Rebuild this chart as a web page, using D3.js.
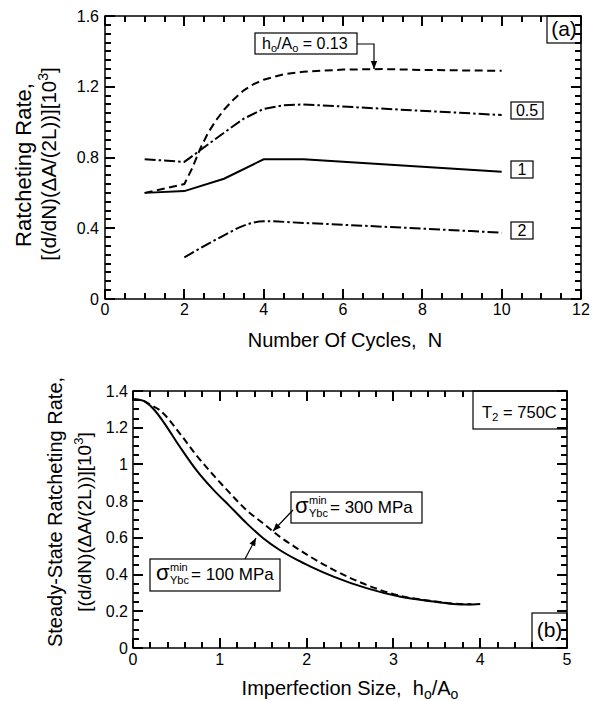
<!DOCTYPE html>
<html><head><meta charset="utf-8">
<script src="https://cdn.jsdelivr.net/npm/d3@7"></script>
<style>
html,body{margin:0;padding:0;background:#fff;}
svg{display:block;font-family:"Liberation Sans",Arial,Helvetica,sans-serif;}
</style></head>
<body>
<svg id="c" width="599" height="701"></svg>
<script>
// ---- Panel (a) data ----
const cyc013 = [1, 2, 2.2, 2.4, 2.6, 2.8, 3, 3.25, 3.5, 3.75, 4, 4.5, 5, 6, 7, 8, 10];
const rate013 = [0.60, 0.65, 0.74, 0.85, 0.94, 1.01, 1.07, 1.13, 1.18, 1.215, 1.24, 1.27, 1.285, 1.297, 1.30, 1.295, 1.29];
const cyc05 = [1, 2, 3, 3.5, 4, 4.5, 5, 10];
const rate05 = [0.79, 0.775, 0.94, 1.02, 1.075, 1.095, 1.10, 1.04];
const cyc1 = [1, 2, 3, 4, 5, 10];
const rate1 = [0.60, 0.61, 0.68, 0.79, 0.79, 0.72];
const cyc2 = [2, 3, 3.5, 4, 5, 10];
const rate2 = [0.235, 0.36, 0.415, 0.44, 0.43, 0.375];
const xTicksA = [0, 2, 4, 6, 8, 10, 12];
const xLabelsA = ["0", "2", "4", "6", "8", "10", "12"];
const yTicksA = [0, 0.4, 0.8, 1.2, 1.6];
const yLabelsA = ["0", "0.4", "0.8", "1.2", "1.6"];

// ---- Panel (b) data ----
const size100 = [0, 0.1, 0.2, 0.25, 0.35, 0.54, 0.73, 0.93, 1.12, 1.31, 1.5, 1.69, 1.89, 2.04, 2.31, 2.69, 3.07, 3.46, 3.69, 3.85, 4.0];
const rate100 = [1.355, 1.35, 1.32, 1.295, 1.232, 1.096, 0.969, 0.86, 0.77, 0.679, 0.598, 0.534, 0.48, 0.445, 0.389, 0.326, 0.28, 0.253, 0.24, 0.237, 0.24];
const size300 = [0, 0.1, 0.2, 0.31, 0.54, 0.73, 0.93, 1.12, 1.31, 1.5, 1.69, 1.89, 2.04, 2.31, 2.69, 3.07, 3.46, 3.69, 3.9];
const rate300 = [1.355, 1.35, 1.325, 1.295, 1.168, 1.05, 0.94, 0.842, 0.75, 0.679, 0.607, 0.543, 0.498, 0.426, 0.344, 0.285, 0.255, 0.242, 0.238];
const xTicksB = [0, 1, 2, 3, 4, 5];
const xLabelsB = ["0", "1", "2", "3", "4", "5"];
const yTicksB = [0, 0.2, 0.4, 0.6, 0.8, 1, 1.2, 1.4];
const yLabelsB = ["0", "0.2", "0.4", "0.6", "0.8", "1", "1.2", "1.4"];

const svg = d3.select("#c");
const zip = (xs, ys) => xs.map((x, i) => [x, ys[i]]);

svg.append("defs").append("marker")
  .attr("id", "ah").attr("viewBox", "0 0 10 10").attr("refX", 10).attr("refY", 5)
  .attr("markerWidth", 8).attr("markerHeight", 8).attr("markerUnits", "userSpaceOnUse")
  .attr("orient", "auto")
  .append("path").attr("d", "M0,1 L10,5 L0,9 Z").attr("fill", "#000");

function txt(parent, x, y, size, anchor) {
  return parent.append("text").attr("x", x).attr("y", y).attr("font-size", size)
    .attr("text-anchor", anchor || "start").attr("fill", "#000");
}

function panel(o) {
  const g = svg.append("g");
  const x = d3.scaleLinear().domain(o.xd).range([o.L, o.R]);
  const y = d3.scaleLinear().domain(o.yd).range([o.B, o.T]);
  const minX = d3.range(o.xd[0], o.xd[1] + 1e-9, o.xm);
  const minY = d3.range(o.yd[0], o.yd[1] + 1e-9, o.ym);
  const isMajor = (v, arr) => arr.some(a => Math.abs(a - v) < 1e-6);
  const inBox = (px, py) => o.boxes.some(b => px > b[0] + 0.5 && px < b[2] - 0.5 && py >= b[1] - 0.5 && py <= b[3] + 0.5);

  // tick labels
  g.append("g").selectAll("text").data(o.xt).join("text")
    .attr("x", d => x(d)).attr("y", o.B + o.xpad).attr("text-anchor", "middle")
    .attr("font-size", 16).attr("fill", "#000").text((d, i) => o.xl[i]);
  g.append("g").selectAll("text").data(o.yt).join("text")
    .attr("x", o.L - o.ypad).attr("y", d => y(d) + 5.5).attr("text-anchor", "end")
    .attr("font-size", 16).attr("fill", "#000").text((d, i) => o.yl[i]);

  // curves
  o.series.forEach(s => {
    g.append("path").datum(zip(s.x, s.y))
      .attr("fill", "none").attr("stroke", "#000").attr("stroke-width", 2)
      .attr("stroke-dasharray", s.dash || null)
      .attr("d", d3.line().x(d => x(d[0])).y(d => y(d[1])).curve(s.curve || d3.curveMonotoneX));
  });

  // boxes
  o.boxes.forEach(b => {
    g.append("rect").attr("x", b[0]).attr("y", b[1]).attr("width", b[2] - b[0]).attr("height", b[3] - b[1])
      .attr("fill", "#fff").attr("stroke", "#000").attr("stroke-width", 1.2);
  });

  // ticks: crisp, pixel-snapped
  const tp = d3.path();
  minX.forEach(v => {
    const len = isMajor(v, o.xt) ? 10 : 6;
    const px = Math.round(x(v));
    if (!inBox(px, o.B - 2)) { tp.moveTo(px, o.B); tp.lineTo(px, o.B - len); }
    if (!inBox(px, o.T + 2)) { tp.moveTo(px, o.T); tp.lineTo(px, o.T + len); }
  });
  minY.forEach(v => {
    const len = isMajor(v, o.yt) ? 10 : 6;
    const py = Math.round(y(v));
    tp.moveTo(o.L, py); tp.lineTo(o.L + len, py);
    tp.moveTo(o.R, py); tp.lineTo(o.R - len, py);
  });
  g.append("path").attr("d", tp.toString()).attr("fill", "none")
    .attr("stroke", "#000").attr("stroke-width", 2).attr("shape-rendering", "crispEdges");

  // frame
  g.append("rect").attr("x", o.L).attr("y", o.T).attr("width", o.R - o.L).attr("height", o.B - o.T)
    .attr("fill", "none").attr("stroke", "#000").attr("stroke-width", 1.5);
  return { g, x, y };
}

// ---------- Panel (a) ----------
const A = panel({
  L: 105, R: 581, T: 16, B: 299, xd: [0, 12], yd: [0, 1.6], xm: 0.5, ym: 0.05,
  xt: xTicksA, xl: xLabelsA, yt: yTicksA, yl: yLabelsA, xpad: 16, ypad: 6,
  series: [
    { x: cyc013, y: rate013, dash: "8,4.5", curve: d3.curveLinear },
    { x: cyc05, y: rate05, dash: "11,3,2.5,3", curve: d3.curveLinear },
    { x: cyc1, y: rate1, curve: d3.curveLinear },
    { x: cyc2, y: rate2, dash: "11,3,2.5,3" }
  ],
  boxes: [[255, 33, 357, 54], [547, 16, 581, 43], [511, 102, 543, 119], [511, 161, 533, 178], [511, 222, 533, 239]]
});

let t = txt(A.g, 262, 49, 16);
t.append("tspan").text("h");
t.append("tspan").text("o").attr("font-size", 11).attr("dy", 3);
t.append("tspan").text("/A").attr("dy", -3);
t.append("tspan").text("o").attr("font-size", 11).attr("dy", 3);
t.append("tspan").text(" = 0.13").attr("dy", -3);
txt(A.g, 564, 36, 21, "middle").text("(a)");
txt(A.g, 527, 116, 16, "middle").text("0.5");
txt(A.g, 522, 175, 16, "middle").text("1");
txt(A.g, 522, 236, 16, "middle").text("2");
A.g.append("path").attr("d", "M357,44 H374 V69").attr("fill", "none").attr("stroke", "#000")
  .attr("stroke-width", 1.2).attr("marker-end", "url(#ah)");

txt(A.g, 345, 347, 20, "middle").text("Number Of Cycles,\u00a0 N");
let ya = A.g.append("g").attr("transform", "translate(31,165) rotate(-90)");
txt(ya, 0, 0, 22, "middle").text("Ratcheting Rate,");
let yb = A.g.append("g").attr("transform", "translate(56,164) rotate(-90)");
t = txt(yb, 0, 0, 20.5, "middle");
t.append("tspan").text("[(d/dN)(\u0394A/(2L))][10");
t.append("tspan").text("3").attr("font-size", 14).attr("dy", -8);
t.append("tspan").text("]").attr("dy", 8);

// ---------- Panel (b) ----------
const B = panel({
  L: 133, R: 567, T: 391, B: 648, xd: [0, 5], yd: [0, 1.4], xm: 0.2, ym: 0.05,
  xt: xTicksB, xl: xLabelsB, yt: yTicksB, yl: yLabelsB, xpad: 17, ypad: 5,
  series: [
    { x: size100, y: rate100 },
    { x: size300, y: rate300, dash: "7,4" }
  ],
  boxes: [[473, 391, 567, 429], [532, 613, 567, 648], [291, 492, 422, 523], [150, 559, 280, 591]]
});

t = txt(B.g, 482, 418, 16.5);
t.append("tspan").text("T");
t.append("tspan").text("2").attr("font-size", 11.5).attr("dy", 3);
t.append("tspan").text(" = 750C").attr("dy", -3);
txt(B.g, 549.5, 637, 21, "middle").text("(b)");

function sigma(x0, top, rest) {
  txt(B.g, x0, top + 21, 22).text("\u03c3");
  txt(B.g, x0 + 14, top + 12, 11).text("min");
  txt(B.g, x0 + 14, top + 25, 11).text("Ybc");
  txt(B.g, x0 + 35, top + 21, 17).text(rest);
}
sigma(295, 492, "= 300 MPa");
sigma(156, 559, "= 100 MPa");
B.g.append("path").attr("d", "M293,510 L273,531").attr("stroke", "#000").attr("stroke-width", 1.2).attr("marker-end", "url(#ah)");
B.g.append("path").attr("d", "M245,559 L256,538").attr("stroke", "#000").attr("stroke-width", 1.2).attr("marker-end", "url(#ah)");

t = txt(B.g, 350, 695, 20, "middle");
t.append("tspan").text("Imperfection Size,\u00a0 h");
t.append("tspan").text("o").attr("font-size", 14).attr("dy", 4);
t.append("tspan").text("/A").attr("dy", -4);
t.append("tspan").text("o").attr("font-size", 14).attr("dy", 4);
let yc = B.g.append("g").attr("transform", "translate(62,512) rotate(-90)");
txt(yc, 0, 0, 20, "middle").text("Steady-State Ratcheting Rate,");
let yd = B.g.append("g").attr("transform", "translate(91,522) rotate(-90)");
t = txt(yd, 0, 0, 19, "middle");
t.append("tspan").text("[(d/dN)(\u0394A/(2L))][10");
t.append("tspan").text("3").attr("font-size", 13).attr("dy", -8);
t.append("tspan").text("]").attr("dy", 8);
</script>
</body></html>
